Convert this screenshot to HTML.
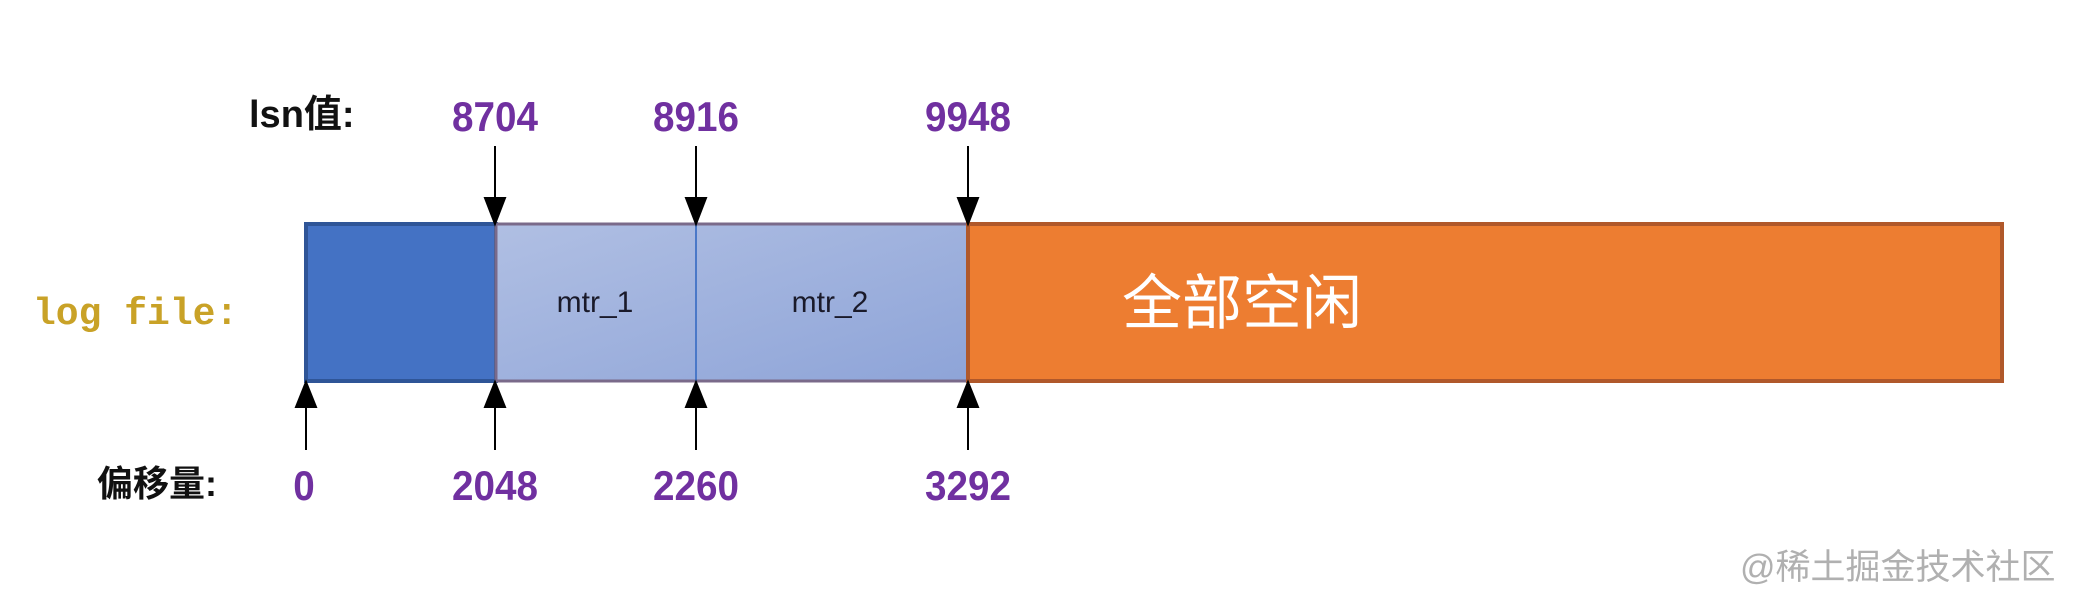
<!DOCTYPE html>
<html><head><meta charset="utf-8"><style>
body{margin:0;width:2086px;height:608px;background:#fff;overflow:hidden;position:relative;font-family:"Liberation Sans","Noto Sans CJK SC",sans-serif}
.t{position:absolute;white-space:nowrap;line-height:1}
.n{color:#7030a0;font-size:42px;font-weight:bold;transform:translateX(-50%) scaleX(0.92)}
</style></head><body>
<svg width="2086" height="608" style="position:absolute;left:0;top:0">
<defs><linearGradient id="g" x1="0" y1="0" x2="1" y2="1"><stop offset="0" stop-color="#b0bfe3"/><stop offset="1" stop-color="#8ea4d8"/></linearGradient></defs>
<rect x="306" y="224" width="190" height="157" fill="#4472c4" stroke="#2f5597" stroke-width="4"/>
<rect x="496" y="224" width="472" height="157" fill="url(#g)" stroke="#7a6a8a" stroke-width="3"/>
<line x1="696" y1="224" x2="696" y2="381" stroke="#4a78c8" stroke-width="2"/>
<rect x="968" y="224" width="1034" height="157" fill="#ed7d31" stroke="#b0582a" stroke-width="4"/>
<g stroke="#000" stroke-width="2" fill="#000">
<line x1="495" y1="146" x2="495" y2="200"/><polygon points="485,198 505,198 495,224"/>
<line x1="696" y1="146" x2="696" y2="200"/><polygon points="686,198 706,198 696,224"/>
<line x1="968" y1="146" x2="968" y2="200"/><polygon points="958,198 978,198 968,224"/>
<line x1="306" y1="405" x2="306" y2="450"/><polygon points="296,407 316,407 306,382"/>
<line x1="495" y1="405" x2="495" y2="450"/><polygon points="485,407 505,407 495,382"/>
<line x1="696" y1="405" x2="696" y2="450"/><polygon points="686,407 706,407 696,382"/>
<line x1="968" y1="405" x2="968" y2="450"/><polygon points="958,407 978,407 968,382"/>
</g>
</svg>
<div class="t" style="left:249px;top:96px;font-size:38px;font-weight:bold;color:#111">lsn值:</div>
<div class="t" style="left:33px;top:296px;font-size:38px;font-weight:bold;color:#c9a227;font-family:'Liberation Mono',monospace">log file:</div>
<div class="t" style="left:97px;top:466px;font-size:36px;font-weight:bold;color:#111">偏移量:</div>
<div class="t n" style="left:495px;top:96px">8704</div>
<div class="t n" style="left:696px;top:96px">8916</div>
<div class="t n" style="left:968px;top:96px">9948</div>
<div class="t n" style="left:304px;top:465px">0</div>
<div class="t n" style="left:495px;top:465px">2048</div>
<div class="t n" style="left:696px;top:465px">2260</div>
<div class="t n" style="left:968px;top:465px">3292</div>
<div class="t" style="left:595px;top:288px;font-size:30px;color:#1a1a2a;transform:translateX(-50%)">mtr_1</div>
<div class="t" style="left:830px;top:288px;font-size:30px;color:#1a1a2a;transform:translateX(-50%)">mtr_2</div>
<div class="t" style="left:1122px;top:274px;font-size:60px;color:#fff">全部空闲</div>
<div class="t" style="left:1740px;top:550px;font-size:35px;color:#b0b0b0">@稀土掘金技术社区</div>
</body></html>
